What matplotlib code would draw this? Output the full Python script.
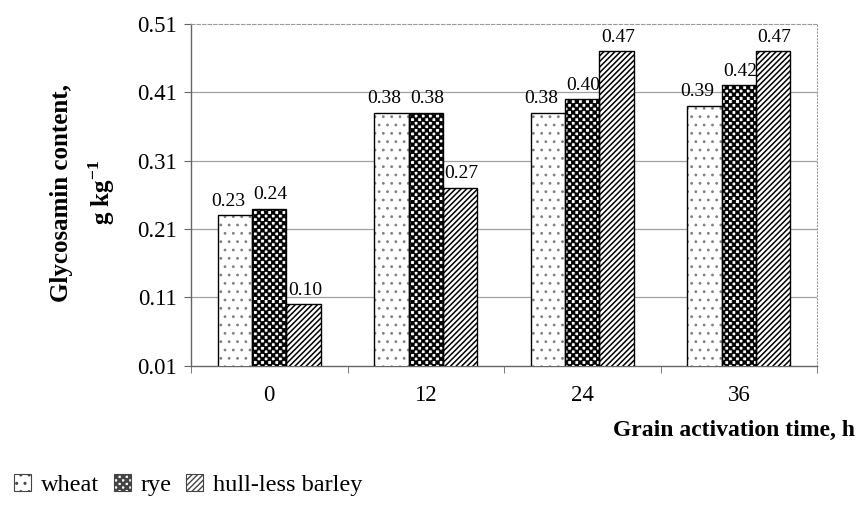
import warnings
import numpy as np
import matplotlib
matplotlib.use("Agg")
import matplotlib.pyplot as plt
from matplotlib import hatch as mhatch
from matplotlib.path import Path
from matplotlib.patches import Patch

warnings.filterwarnings("ignore")

# data
times = ["0", "12", "24", "36"]
wheat = [0.23, 0.38, 0.38, 0.39]
rye = [0.24, 0.38, 0.40, 0.42]
barley = [0.10, 0.27, 0.47, 0.47]
series_names = ["wheat", "rye", "hull-less barley"]
yticks = [0.01, 0.11, 0.21, 0.31, 0.41, 0.51]


# checkerboard hatch ('c'), matplotlib has none built in
class CheckerHatch(mhatch.HatchPatternBase):
    def __init__(self, hatch, density):
        self.n = hatch.count('c') * 28
        n = self.n
        self.num_vertices = (n * n // 2) * 5

    def set_vertices_and_codes(self, vertices, codes):
        n = self.n
        s = 1.0 / n
        sq = np.array([[0, 0], [1, 0], [1, 1], [0, 1], [0, 0]], float) * s * 0.96 + s * 0.02
        sq_codes = [Path.MOVETO, Path.LINETO, Path.LINETO, Path.LINETO, Path.CLOSEPOLY]
        k = 0
        for i in range(n):
            for j in range(n):
                if (i + j) % 2 == 0:
                    vertices[k:k + 5] = sq + [i * s, j * s]
                    codes[k:k + 5] = sq_codes
                    k += 5


mhatch._hatch_types.append(CheckerHatch)

plt.rcParams['font.family'] = ['Liberation Serif', 'DejaVu Serif']
plt.rcParams['mathtext.fontset'] = 'custom'
plt.rcParams['mathtext.rm'] = 'Liberation Serif'
plt.rcParams['mathtext.bf'] = 'Liberation Serif:bold'

fig = plt.figure(figsize=(8.6, 5.07), dpi=100)
ax = fig.add_axes([0.2221, 0.2787, 0.7279, 0.674])

x = np.arange(len(times))
w = 0.22
hatches = ['..', 'c', '//////']
hatch_colors = ['#808080', 'black', 'black']
hatch_lws = [0.8, 0.6, 1.1]
label_dx = [-5, 1, 1]  # label nudges in points, as the original spreads them
all_series = [wheat, rye, barley]
for k, vals in enumerate(all_series):
    pos = x + (k - 1) * w
    with plt.rc_context({'hatch.linewidth': hatch_lws[k]}):
        fill = ax.bar(pos, vals, width=w, color='white', edgecolor=hatch_colors[k],
                      linewidth=0, hatch=hatches[k], zorder=3)
        for b in fill:
            if hasattr(b, 'set_hatch_linewidth'):
                b.set_hatch_linewidth(hatch_lws[k])
    bars = ax.bar(pos, vals, width=w, color='none', edgecolor='black',
                  linewidth=1.0, zorder=3.5)
    for b, v in zip(bars, vals):
        ax.annotate(f"{v:.2f}", (b.get_x() + b.get_width() / 2, v),
                    xytext=(label_dx[k], 4), textcoords='offset points',
                    ha='center', va='bottom', fontsize=14, zorder=4)

for t in yticks[1:-1]:
    ax.axhline(t, color='#a0a0a0', lw=0.9, zorder=1)

ax.set_ylim(yticks[0], yticks[-1])
ax.set_xlim(-0.5, len(times) - 0.5)
ax.set_yticks(yticks)
ax.set_yticklabels([f"{t:.2f}" for t in yticks], fontsize=16.5)
ax.set_xticks(x)
ax.set_xticklabels(times, fontsize=16.5)
ax.tick_params(axis='x', which='major', length=0, pad=14)
ax.set_xticks(np.arange(-0.5, len(times), 1.0), minor=True)
ax.tick_params(axis='x', which='minor', length=5, color='#666666', direction='out')
ax.tick_params(axis='y', length=5, color='#666666', direction='out', pad=5)

for s in ['left', 'bottom']:
    ax.spines[s].set_color('#666666')
    ax.spines[s].set_linewidth(1.0)
ax.spines['top'].set_color('#999999')
ax.spines['top'].set_linestyle((0, (3, 2)))
ax.spines['right'].set_color('#999999')
ax.spines['right'].set_linestyle((0, (1, 2)))

fig.text(0.097, 0.620, "Glycosamin content,\ng kg$^{\\mathbf{-1}}$", rotation=90,
         ha='center', va='center', fontsize=18, fontweight='bold',
         linespacing=1.55, multialignment='center')
fig.text(0.994, 0.150, "Grain activation time, h", ha='right', va='center',
         fontsize=17, fontweight='bold')

handles = [Patch(facecolor='white', edgecolor='#444444', hatch=h, linewidth=0.8)
           for h in hatches]
fig.legend(handles, series_names, loc='center left', bbox_to_anchor=(0.008, 0.043),
           ncol=3, frameon=False, fontsize=17.5, handlelength=0.7, handleheight=0.7,
           handletextpad=0.4, columnspacing=0.6, borderaxespad=0.0, borderpad=0.3)

fig.savefig("out.png", dpi=100)
